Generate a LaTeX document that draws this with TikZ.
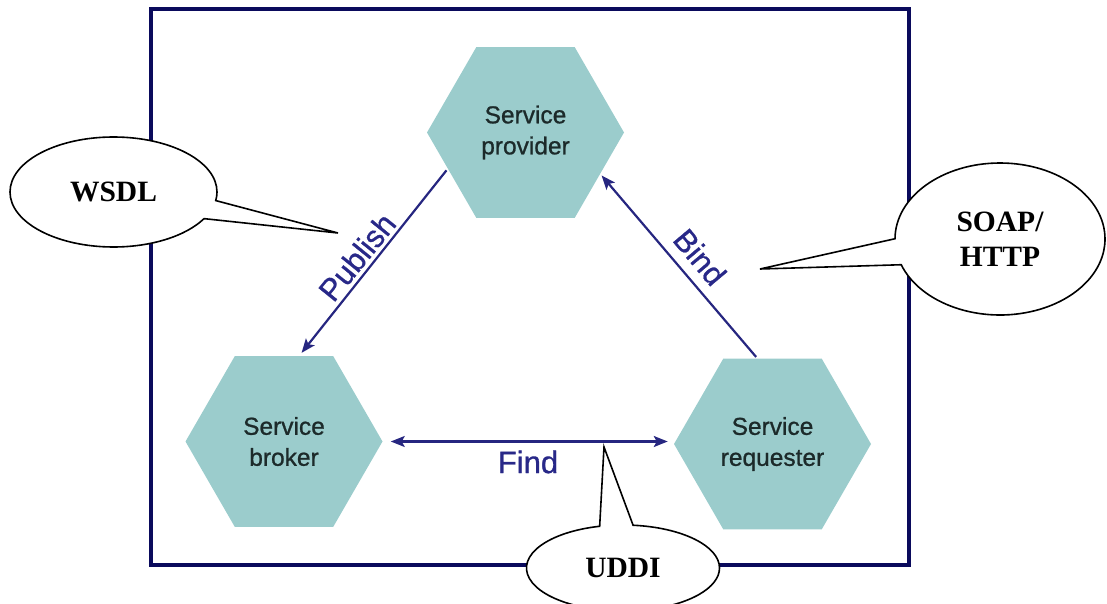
\documentclass[tikz,border=0pt]{standalone}
\usepackage{fontspec}
\setmainfont{Liberation Sans}
\newfontfamily\heavysans[FakeBold=0.9]{Liberation Sans}
\newfontfamily\calloutfont{Liberation Serif}
\usetikzlibrary{shapes.geometric,shapes.callouts,arrows.meta,calc}

\definecolor{framenavy}{RGB}{10,10,92}
\definecolor{linknavy}{RGB}{38,38,128}
\definecolor{labelnavy}{RGB}{40,40,136}
\definecolor{hexfill}{RGB}{155,204,204}
\definecolor{hextext}{RGB}{28,42,42}

\begin{document}
\begin{tikzpicture}[x=1pt,y=1pt,
  hexa/.style={regular polygon, regular polygon sides=6, minimum size=197pt,
    inner sep=0pt, fill=hexfill, draw=none, text=hextext, align=center,
    font=\heavysans\fontsize{24.5}{31}\selectfont},
  flow/.style={draw=linknavy, line width=2.2pt,
    -{Stealth[length=14pt,width=11pt,inset=3pt]}},
  flowboth/.style={draw=linknavy, line width=2.2pt,
    {Stealth[length=14pt,width=11pt,inset=3pt]}-{Stealth[length=14pt,width=11pt,inset=3pt]}},
  flowlabel/.style={text=labelnavy, font=\heavysans\fontsize{31}{31}\selectfont, inner sep=0pt},
  bubble/.style={ellipse callout, draw=black, fill=white, line width=1.6pt,
    inner sep=0pt, align=center, callout pointer arc=20,
    font=\calloutfont\bfseries\fontsize{29.5}{35}\selectfont}
]
\useasboundingbox (0,0) rectangle (1107,603);
\clip (0,0) rectangle (1107,603);

% enclosing frame
\node[draw=framenavy, line width=4pt, minimum width=758pt, minimum height=556pt,
      inner sep=0pt, anchor=south west] (frame) at (149,36) {};

% the three roles
\node[hexa] (prov) at (525.5,470.5) {Service\\provider};
\node[hexa] (brok) at (284,161.5) {Service\\broker};
\node[hexa] (req)  at (772.5,159) {Service\\requester};

% interactions between the roles
\draw[flow, shorten <=2pt, shorten >=4pt] (prov.205) -- (brok.80);
\draw[flow, shorten <=2pt, shorten >=2pt] (req.100) -- (prov.331);
\draw[flowboth, shorten <=8pt, shorten >=6pt] (brok.east) -- (brok.east -| req.west);

\node[flowlabel, rotate=51] (publish) at (357,346) {Publish};
\node[flowlabel, rotate=-50] (bind) at (700,346) {Bind};
\node[flowlabel] (find) at (528,141) {Find};

% technology callouts
\coordinate (wsdltip) at (338,370);
\coordinate (soaptip) at (760,334);
\coordinate (udditip) at (604,156);

\node[bubble, minimum width=207pt, minimum height=110pt,
      callout absolute pointer=(wsdltip)] (wsdl) at (113.5,411) {WSDL};
\node[bubble, minimum width=210pt, minimum height=152pt,
      callout absolute pointer=(soaptip)] (soap) at (1000,364) {SOAP/\\HTTP};
\node[bubble, minimum width=193pt, minimum height=86pt,
      callout absolute pointer=(udditip)] (uddi) at (623,35) {\raisebox{-4pt}{UDDI}};
\end{tikzpicture}
\end{document}
